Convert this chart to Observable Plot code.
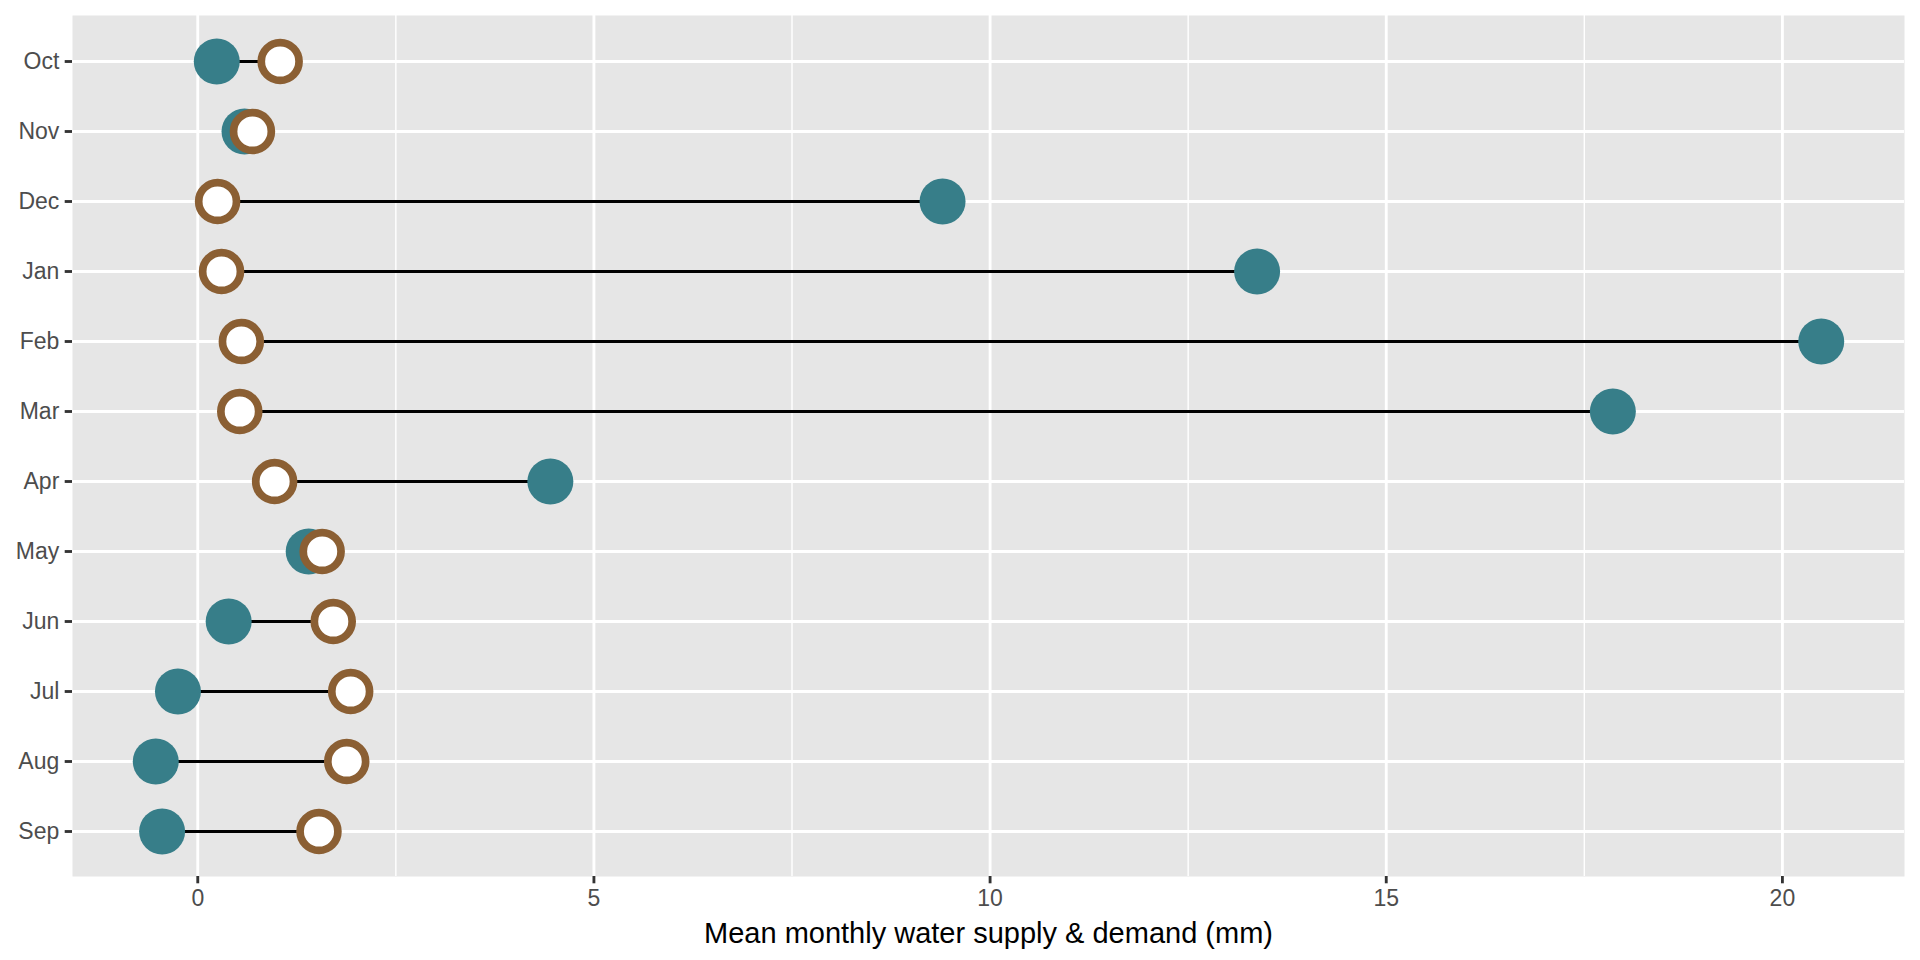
<!DOCTYPE html>
<html>
<head>
<meta charset="utf-8">
<script src="https://cdn.jsdelivr.net/npm/d3@7"></script>
<script src="https://cdn.jsdelivr.net/npm/@observablehq/plot@0.6"></script>
<style>
  html, body { margin: 0; padding: 0; background: #ffffff; }
  #chart svg { display: block; }
</style>
</head>
<body>
<div id="chart"></div>
<script>
const months = ["Oct", "Nov", "Dec", "Jan", "Feb", "Mar", "Apr", "May", "Jun", "Jul", "Aug", "Sep"];
const supply = [0.24, 0.59, 9.40, 13.37, 20.49, 17.86, 4.45, 1.40, 0.39, -0.25, -0.53, -0.45];
const demand = [1.04, 0.69, 0.25, 0.30, 0.55, 0.53, 0.97, 1.57, 1.71, 1.93, 1.88, 1.53];
const majorTicks = [0, 5, 10, 15, 20];
const minorTicks = [2.5, 7.5, 12.5, 17.5];
const xTitle = "Mean monthly water supply & demand (mm)";

const data = months.map((m, i) => ({month: m, supply: supply[i], demand: demand[i]}));

const lo = d3.min([...supply, ...demand]);
const hi = d3.max([...supply, ...demand]);
const pad = (hi - lo) * 0.05;

const font = "'Liberation Sans', Arial, Helvetica, sans-serif";

const chart = Plot.plot({
  width: 1920,
  height: 960,
  marginLeft: 72,
  marginRight: 16,
  marginTop: 15,
  marginBottom: 84,
  style: {fontFamily: font, background: "#ffffff"},
  x: {domain: [lo - pad, hi + pad], label: null},
  y: {type: "point", domain: months, padding: 0.6, label: null},
  marks: [
    Plot.frame({fill: "#E6E6E6", stroke: null}),
    Plot.gridX(minorTicks, {stroke: "#ffffff", strokeOpacity: 1, strokeWidth: 1.42}),
    Plot.gridX(majorTicks, {stroke: "#ffffff", strokeOpacity: 1, strokeWidth: 2.85}),
    Plot.gridY(months, {stroke: "#ffffff", strokeOpacity: 1, strokeWidth: 2.85}),
    Plot.axisX(majorTicks, {
      tickSize: 7.3, tickPadding: 5.9, stroke: "#333333", strokeWidth: 2.85,
      fontSize: 23, fill: "#4D4D4D", label: null
    }),
    Plot.axisY({
      tickSize: 7.3, tickPadding: 5.9, stroke: "#333333", strokeWidth: 2.85,
      fontSize: 23, fill: "#4D4D4D", label: null
    }),
    Plot.text([xTitle], {
      frameAnchor: "bottom", dy: 57, lineAnchor: "middle", fontSize: 29, fill: "#000000"
    }),
    Plot.ruleY(data, {y: "month", x1: "supply", x2: "demand", stroke: "#000000", strokeWidth: 2.85}),
    Plot.dot(data, {x: "supply", y: "month", r: 23, fill: "#377E89", stroke: null}),
    Plot.dot(data, {x: "demand", y: "month", r: 18.9, fill: "#ffffff", stroke: "#8B5F33", strokeWidth: 7.7})
  ]
});

document.getElementById("chart").appendChild(chart);
</script>
</body>
</html>
